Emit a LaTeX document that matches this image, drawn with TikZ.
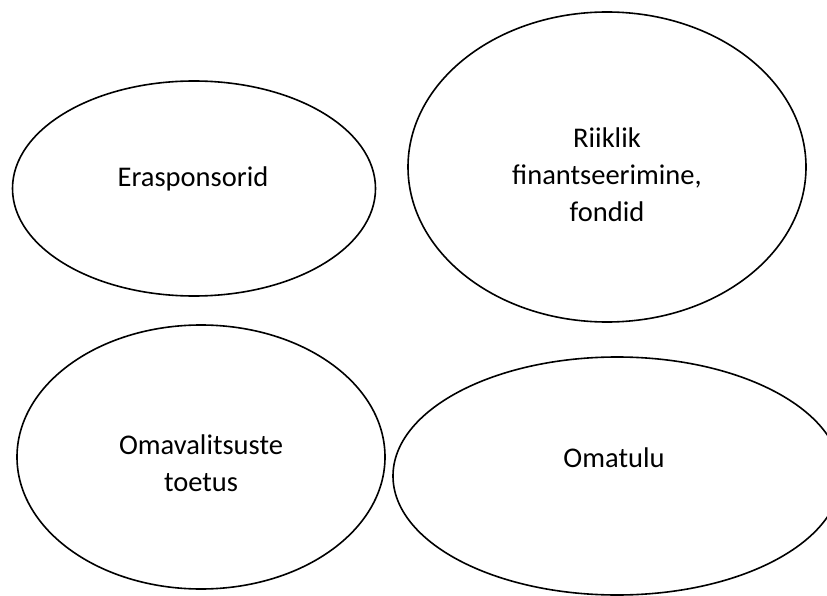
\documentclass[tikz,border=0pt]{standalone}
\usepackage{fontspec}
\setmainfont{Carlito}
\usetikzlibrary{shapes.geometric}
\begin{document}
\begin{tikzpicture}[x=1pt,y=-1pt,
  oval/.style={ellipse, draw=black, line width=1.6pt, inner sep=0pt, fill=white},
  lbl/.style={font=\fontsize{28.5}{37}\selectfont, align=center, anchor=base, inner sep=0pt}]
\useasboundingbox (0,0) rectangle (827,596);
\clip (0,0) rectangle (827,596);
\node[oval, minimum width=363pt, minimum height=215pt] (e1) at (194,188.5) {};
\node[oval, minimum width=398pt, minimum height=310pt] (e2) at (607,167) {};
\node[oval, minimum width=368pt, minimum height=264pt] (e3) at (201,457) {};
\node[oval, minimum width=448pt, minimum height=238pt] (e4) at (617,476) {};
\node[lbl] (t1) at (193,187) {Erasponsorid};
\node[lbl] (t2) at (607,222) {Riiklik\\finantseerimine,\\fondid};
\node[lbl] (t3) at (201,491) {Omavalitsuste\\toetus};
\node[lbl] (t4) at (614,467) {Omatulu};
\end{tikzpicture}
\end{document}
